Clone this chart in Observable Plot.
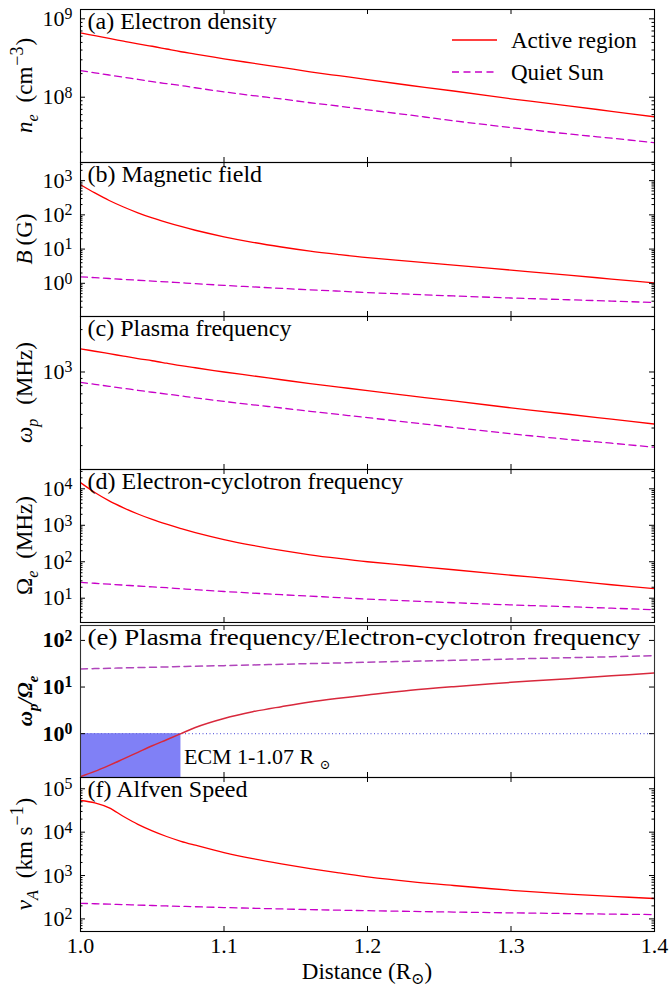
<!DOCTYPE html>
<html><head><meta charset="utf-8">
<script src="https://cdn.jsdelivr.net/npm/d3@7"></script>
<script src="https://cdn.jsdelivr.net/npm/@observablehq/plot@0.6"></script>
<style>
body{margin:0;background:#fff;}
#root{position:relative;width:671px;height:987px;overflow:hidden;background:#fff;font-family:"Liberation Serif","DejaVu Serif",serif;}
#root svg{position:absolute;left:0;}
</style></head><body><div id="root"></div>
<script>
// ---------- data ----------
const distance   = [1.00,1.01,1.02,1.03,1.04,1.05,1.06,1.07,1.08,1.10,1.12,1.14,1.16,1.18,1.20,1.23,1.26,1.30,1.34,1.37,1.40];
const neActive   = [6.6e8,6.1e8,5.62e8,5.19e8,4.79e8,4.47e8,4.12e8,3.80e8,3.55e8,3.09e8,2.72e8,2.40e8,2.11e8,1.88e8,1.68e8,1.41e8,1.20e8,9.55e7,7.76e7,6.61e7,5.62e7];
const neQuiet    = [2.19e8,2.05e8,1.92e8,1.80e8,1.69e8,1.58e8,1.49e8,1.41e8,1.32e8,1.17e8,1.05e8,9.5e7,8.5e7,7.7e7,6.9e7,5.9e7,5.0e7,4.1e7,3.4e7,3.0e7,2.63e7];
const bActive    = [759,437,263,170,115,81.3,60.3,45.7,35.5,22.9,15.8,11.5,8.71,6.92,5.62,4.37,3.39,2.43,1.74,1.33,1.02];
const bQuiet     = [1.55,1.46,1.38,1.30,1.23,1.16,1.10,1.035,0.98,0.87,0.785,0.71,0.645,0.59,0.537,0.479,0.427,0.372,0.331,0.302,0.275];
const wpActive   = [1462,1404,1349,1296,1245,1202,1155,1109,1072,1000,939,881,827,781,737,676,624,556,501,462,427];
const wpQuiet    = [843,817,791,766,741,718,697,676,656,618,585,555,526,499,474,438,404,364,332,312,292];
const wceActive  = [14800,7940,4680,3020,2040,1445,1070,813,631,407,282,204,155,123,100,77.6,60.3,42.7,30.9,23.4,18.2];
const wceQuiet   = [27.3,25.7,24.3,22.9,21.6,20.4,19.4,18.2,17.2,15.3,13.8,12.5,11.4,10.4,9.45,8.43,7.52,6.55,5.83,5.32,4.84];
const ratioActive= [0.120,0.155,0.209,0.288,0.398,0.550,0.741,1.0,1.36,2.12,2.95,3.80,4.79,5.75,6.76,8.51,10.2,12.6,15.1,17.4,20.0];
const ratioQuiet = [24.5,24.9,25.3,25.7,26.2,26.6,27.0,27.5,27.9,28.8,29.8,30.8,31.8,32.9,34.0,35.7,37.4,39.9,42.6,44.7,47.0];
const vaActive   = [53700,47500,36300,22900,15100,10700,7940,6170,5010,3390,2450,1860,1450,1150,933,724,589,457,372,331,295];
const vaQuiet    = [229,224,219,214,209,204,199,195,191,183,176,170,164,159,155,149,144,138,133,129,126];

const xTicks      = [1.0,1.1,1.2,1.3,1.4];
const neTicks     = [1e8,1e9];
const bTicks      = [1e0,1e1,1e2,1e3];
const wpTicks     = [1e3];
const wceTicks    = [1e1,1e2,1e3,1e4];
const ratioTicks  = [1e0,1e1,1e2];
const vaTicks     = [1e2,1e3,1e4,1e5];
const ecmRange    = [1.0,1.07];
const ecmThreshold= 1;
const ecmLabel    = "ECM 1-1.07 R⊙";
const ecmLabelY   = 0.31;
const seriesNames = ["Active region","Quiet Sun"];

// ---------- layout ----------
const W = 671, ML = 80, MR = 17, PW = W - ML - MR;
const FONT = "Liberation Serif, DejaVu Serif, serif";
const RED = "#ff0000", MAG = "#c800c8", DASH = "7,4.5";
const root = document.getElementById("root");
const NS = "http://www.w3.org/2000/svg";

function minorTicks([lo, hi]) {
  const out = [];
  for (let e = Math.floor(Math.log10(lo)) - 1; e <= Math.ceil(Math.log10(hi)); e++)
    for (let m = 2; m <= 9; m++) { const v = m * Math.pow(10, e); if (v > lo && v < hi) out.push(v); }
  return out;
}

function rich(sel, parts) {
  let cur = 0;
  for (const p of parts) {
    const target = p.s === "sub" ? (p.off ?? 6) : p.s === "sup" ? (p.off ?? -9) : 0;
    const ts = sel.append("tspan").text(p.t);
    if (target !== cur) ts.attr("dy", target - cur);
    cur = target;
    if (p.dx) ts.attr("dx", p.dx);
    if (p.i) ts.attr("font-style", "italic");
    if (p.b) ts.attr("font-weight", "bold");
    if (p.s) ts.attr("font-size", p.size || "70%");
  }
}

function panel(cfg) {
  const {top, height, domain, majors, active, quiet, title, ylabel, extra = [], extraTop = [],
         marginBottom = 0, bottomAxis = false, minor = true, frameStroke = "black", tickBold = false,
         activeColor = RED, quietColor = MAG, titleLength = null, lw = 1.3} = cfg;
  const rows = distance.map((x, i) => ({x, a: active[i], q: quiet[i]}));
  const minors = minor ? minorTicks(domain) : [];
  const PH = height;
  const marks = [
    ...extra,
    Plot.line(rows, {x: "x", y: "q", stroke: quietColor, strokeWidth: lw, strokeDasharray: DASH, curve: "catmull-rom", clip: true}),
    Plot.line(rows, {x: "x", y: "a", stroke: activeColor, strokeWidth: lw, curve: "catmull-rom", clip: true}),
    ...extraTop,
    Plot.tickY(majors, {y: d => d, insetRight: PW - 5, stroke: "black"}),
    Plot.tickY(majors, {y: d => d, insetLeft: PW - 5, stroke: "black"}),
    Plot.tickY(minors, {y: d => d, insetRight: PW - 2.5, stroke: "black"}),
    Plot.tickY(minors, {y: d => d, insetLeft: PW - 2.5, stroke: "black"}),
    Plot.tickX(xTicks, {x: d => d, insetTop: PH - 5, stroke: "black"}),
    Plot.tickX(xTicks, {x: d => d, insetBottom: PH - 5, stroke: "black"}),
    Plot.axisY(majors, {anchor: "left", tickSize: 0, tickPadding: 8, fontSize: 22, label: null,
      fontWeight: tickBold ? "bold" : "normal",
      tickFormat: d => "10^" + Math.round(Math.log10(d))}),
    Plot.frame({stroke: frameStroke, strokeWidth: 1.1}),
    Plot.text([title], {frameAnchor: "top-left", text: d => d, dx: 7, dy: 2, fontSize: 24, textAnchor: "start", lineAnchor: "top", fill: "black"})
  ];
  if (bottomAxis) marks.push(Plot.axisX(xTicks, {anchor: "bottom", tickSize: 0, tickPadding: 6, fontSize: 22, label: null, tickFormat: d3.format(".1f")}));
  const svg = Plot.plot({
    width: W, height: height + marginBottom, marginLeft: ML, marginRight: MR, marginTop: 0, marginBottom,
    style: {background: "transparent", overflow: "visible", fontFamily: FONT, color: "black"},
    x: {domain: [1.0, 1.4], axis: null, label: null},
    y: {type: "log", domain, axis: null, label: null},
    marks
  });
  svg.style.top = top + "px";
  svg.style.overflow = "visible";
  root.appendChild(svg);
  const s = d3.select(svg);
  s.selectAll('g[aria-label="y-axis tick label"] text').each(function() {
    const txt = this.textContent; if (!txt.includes("^")) return;
    const [b, e] = txt.split("^");
    this.textContent = "";
    const t1 = document.createElementNS(NS, "tspan"); t1.textContent = b; this.appendChild(t1);
    const t2 = document.createElementNS(NS, "tspan"); t2.textContent = e;
    t2.setAttribute("dy", "-0.42em"); t2.setAttribute("font-size", "72%"); this.appendChild(t2);
  });
  if (titleLength) {
    s.selectAll('g[aria-label="text"] text').filter(function(){return this.textContent === title;})
      .attr("textLength", titleLength).attr("lengthAdjust", "spacingAndGlyphs");
  }
  const yl = s.append("text").attr("transform", `translate(${ylabel.x || 32},${height / 2}) rotate(-90)`)
    .attr("text-anchor", "middle").attr("font-size", ylabel.size || 23).attr("font-family", FONT).attr("fill", "black");
  if (ylabel.bold) yl.attr("font-weight", "bold");
  rich(yl, ylabel.parts);
  return s;
}

// (a)
const sa = panel({top: 9, height: 153, domain: [Math.pow(10, 7.167), Math.pow(10, 9.119)], majors: neTicks,
  active: neActive, quiet: neQuiet, title: "(a) Electron density",
  ylabel: {parts: [{t: "n", i: 1}, {t: "e", i: 1, s: "sub"}, {t: "(cm", dx: 12}, {t: "−3", s: "sup", off: -9, size: "78%", dx: 1}, {t: ")", dx: 1}]}});
const lg = sa.append("g").attr("font-family", FONT).attr("font-size", 23).attr("text-anchor", "start");
[[RED, null, 31], [MAG, DASH, 63]].forEach(([c, dash, y], i) => {
  const l = lg.append("line").attr("x1", 452).attr("x2", 497).attr("y1", y).attr("y2", y)
    .attr("stroke", c).attr("stroke-width", 1.3);
  if (dash) l.attr("stroke-dasharray", dash);
  lg.append("text").attr("x", 511).attr("y", y + 7.5).attr("text-anchor", "start").text(seriesNames[i]);
});

// (b)
panel({top: 162, height: 154, domain: [Math.pow(10, -0.97), Math.pow(10, 3.53)], majors: bTicks,
  active: bActive, quiet: bQuiet, title: "(b) Magnetic field",
  ylabel: {parts: [{t: "B", i: 1}, {t: "(G)", dx: 5}]}});

// (c)
panel({top: 316, height: 153, domain: [203, 2478], majors: wpTicks,
  active: wpActive, quiet: wpQuiet, title: "(c) Plasma frequency",
  ylabel: {parts: [{t: "ω", i: 1}, {t: "p", i: 1, s: "sub"}, {t: "(MHz)", dx: 14}]}});

// (d)
panel({top: 469, height: 153, domain: [Math.pow(10, 0.334), Math.pow(10, 4.53)], majors: wceTicks,
  active: wceActive, quiet: wceQuiet, title: "(d) Electron-cyclotron frequency",
  ylabel: {parts: [{t: "Ω"}, {t: "e", i: 1, s: "sub"}, {t: "(MHz)", dx: 12}]}});

// (e)
const eDomain = [Math.pow(10, -0.94), Math.pow(10, 2.32)];
const se = panel({top: 625, height: 152, domain: eDomain, majors: ratioTicks, minor: false,
  active: ratioActive, quiet: ratioQuiet, title: "(e) Plasma frequency/Electron-cyclotron frequency",
  titleLength: 553, frameStroke: "#333", tickBold: true, activeColor: "#d8283c", quietColor: "#b044bb", lw: 1.5,
  extra: [
    Plot.rect([{x1: ecmRange[0], x2: ecmRange[1], y1: eDomain[0], y2: ecmThreshold}],
      {x1: "x1", x2: "x2", y1: "y1", y2: "y2", fill: "#8080f6"}),
    Plot.ruleY([ecmThreshold], {stroke: "#6a6ae0", strokeWidth: 1.2, strokeDasharray: "1,2.5"})
  ],
  extraTop: [
    Plot.text([ecmLabel], {x: ecmRange[1], y: ecmLabelY, text: d => d, textAnchor: "start", dx: 3, fontSize: 22, fill: "black"})
  ],
  ylabel: {bold: true, size: 21, parts: [{t: "ω", i: 1}, {t: "p", i: 1, s: "sub"}, {t: "/Ω", i: 1}, {t: "e", i: 1, s: "sub"}]}});
se.selectAll('g[aria-label="text"] text').filter(function(){return this.textContent === ecmLabel;}).each(function(){
  this.textContent = "";
  const a = document.createElementNS(NS, "tspan"); a.textContent = "ECM 1-1.07 R "; this.appendChild(a);
  const b = document.createElementNS(NS, "tspan"); b.textContent = "⊙"; b.setAttribute("font-size", "60%"); b.setAttribute("dy", "5"); this.appendChild(b);
});

// (f)
const sf = panel({top: 777, height: 154, domain: [Math.pow(10, 1.71), Math.pow(10, 5.26)], majors: vaTicks,
  active: vaActive, quiet: vaQuiet, title: "(f) Alfven Speed", marginBottom: 56, bottomAxis: true,
  ylabel: {parts: [{t: "v", i: 1}, {t: "A", i: 1, s: "sub"}, {t: "(km s", dx: 12}, {t: "−1", s: "sup", off: -9, size: "78%", dx: 1}, {t: ")", dx: 1}]}});
const xl = sf.append("text").attr("x", ML + PW / 2).attr("y", 154 + 48).attr("text-anchor", "middle")
  .attr("font-size", 23).attr("font-family", FONT).attr("fill", "black");
rich(xl, [{t: "Distance (R"}, {t: "⊙", s: "sub", off: 5, size: "70%"}, {t: ")"}]);
</script>
</body></html>
